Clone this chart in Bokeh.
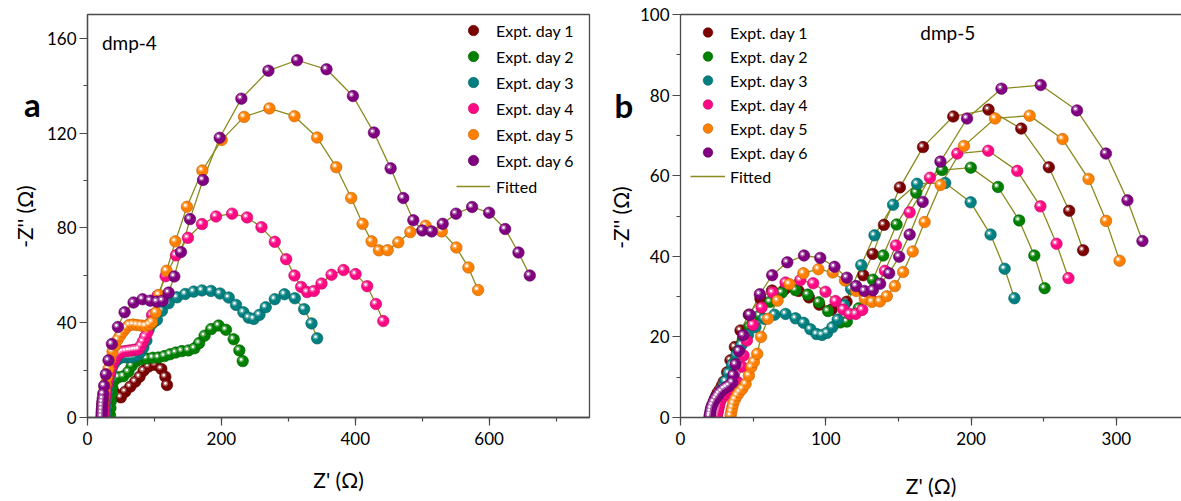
from bokeh.plotting import figure
from bokeh.models import (Range1d, SingleIntervalTicker, Legend, LegendItem, Label,
                          ColumnDataSource, LinearAxis)
from bokeh.layouts import row
from bokeh.embed import file_html
from bokeh.resources import INLINE

# ---------------- data: panel a (dmp-4) ----------------
a_day1_x = [31.4, 32.9, 35.4, 38.9, 43.9, 49.9, 56.4, 63.9, 71.3, 77.8, 83.8, 91.3, 101.3, 110.3, 116.3, 118.8]
a_day1_y = [1.0, 3.8, 8.1, 10.9, 9.5, 8.5, 10.9, 13.0, 15.1, 17.2, 19.7, 21.5, 22.2, 20.5, 17.2, 13.7]

a_day2_x = [33.6, 34.3, 35.1, 36.0, 37.1, 40.1, 46.1, 53.6, 61.1, 66.1, 72.6, 80.1, 88.5, 97.5, 106.0, 115.0,
            123.4, 131.9, 140.9, 150.9, 159.9, 166.9, 174.9, 184.9, 195.9, 206.9, 218.4, 226.9, 231.9]
a_day2_y = [1.0, 4.0, 7.0, 10.0, 12.5, 15.7, 17.0, 17.4, 19.3, 21.8, 23.8, 24.6, 24.9, 25.2, 25.3, 25.9,
            26.7, 27.4, 28.0, 28.3, 29.2, 31.4, 34.5, 37.3, 38.8, 37.0, 33.0, 28.3, 23.8]

a_day3_x = [26.0, 26.5, 27.0, 27.8, 28.8, 30.0, 31.5, 33.5, 36.0, 39.0, 43.0, 47.5, 52.0, 56.5, 61.0, 65.5,
            70.0, 74.5, 79.0, 83.5, 88.0, 91.3, 96.0, 100.7, 103.7, 111.2, 121.2, 133.7, 146.1, 158.6, 171.1,
            184.5, 198.0, 211.0, 221.9, 232.9, 240.9, 248.4, 256.9, 266.3, 279.8, 294.3, 309.7, 323.7, 334.7, 343.1]
a_day3_y = [0.5, 3.0, 5.5, 8.0, 10.5, 13.0, 15.5, 18.0, 20.5, 22.5, 24.0, 25.0, 25.4, 25.5, 25.5, 25.5,
            25.7, 26.3, 27.5, 29.5, 32.5, 37.0, 39.5, 40.7, 41.2, 45.0, 48.2, 50.7, 52.1, 53.1, 53.6,
            53.4, 52.3, 50.6, 47.5, 44.4, 42.1, 41.6, 43.3, 46.5, 49.9, 52.0, 50.3, 45.7, 39.7, 33.4]

a_day4_x = [24.0, 24.5, 25.0, 25.6, 26.4, 27.5, 28.9, 30.5, 32.2, 33.9, 36.2, 38.9, 42.0, 45.4, 48.8, 52.4,
            56.8, 61.3, 65.0, 68.8, 72.6, 76.3, 79.6, 82.8, 86.0, 89.3, 93.5, 96.5, 104.7, 116.7, 132.2, 150.1,
            171.1, 192.0, 216.0, 238.4, 259.9, 279.8, 296.8, 309.2, 319.2, 328.2, 338.2, 349.6, 364.6, 382.5,
            400.5, 417.9, 430.9, 441.9]
a_day4_y = [0.5, 2.5, 4.5, 6.5, 8.7, 11.0, 13.7, 16.0, 17.8, 19.3, 21.5, 23.5, 25.0, 26.4, 27.2, 27.8,
            28.0, 28.2, 28.3, 28.5, 28.6, 28.8, 30.2, 32.0, 34.0, 35.8, 39.7, 43.2, 51.4, 59.6, 68.4, 75.8,
            81.6, 84.8, 86.0, 84.4, 80.3, 74.1, 66.8, 59.9, 55.1, 52.9, 53.4, 56.5, 60.2, 62.2,
            60.5, 55.4, 47.9, 40.7]

a_day5_x = [21.0, 21.3, 21.7, 22.2, 22.8, 23.6, 24.6, 25.5, 27.0, 29.0, 31.4, 34.0, 37.4, 41.0, 44.9, 48.8,
            52.9, 57.5, 62.3, 68.0, 73.8, 80.0, 86.3, 92.0, 96.3, 102.2, 106.7, 118.2, 131.2, 148.6, 171.6,
            200.5, 233.9, 271.8, 309.2, 343.1, 371.6, 394.0, 411.0, 424.4, 435.4, 448.4, 464.3, 482.3, 505.2,
            529.2, 551.1, 569.1, 583.5]
a_day5_y = [0.5, 2.0, 3.5, 5.0, 6.5, 8.0, 9.7, 11.5, 14.0, 17.0, 20.5, 24.5, 27.8, 30.5, 32.8, 34.6,
            36.2, 37.8, 39.0, 39.2, 39.0, 38.8, 38.6, 39.2, 40.2, 44.3, 51.7, 61.9, 74.3, 88.9, 104.2,
            117.1, 126.8, 130.4, 127.1, 118.1, 105.6, 92.6, 81.7, 74.3, 70.5, 70.6, 73.9, 78.2, 80.9,
            78.5, 71.7, 63.3, 53.8]

a_day6_x = [21.0, 21.2, 21.5, 21.8, 22.2, 22.8, 23.5, 24.9, 27.4, 31.4, 36.4, 45.4, 55.4, 68.8, 82.3, 93.8,
            103.7, 112.2, 121.2, 129.7, 139.6, 153.1, 172.6, 197.5, 229.9, 270.3, 313.2, 357.1, 396.5, 427.9,
            452.9, 471.8, 486.8, 500.2, 514.2, 530.7, 550.6, 574.6, 600.0, 624.0, 643.9, 660.8]
a_day6_y = [0.5, 2.0, 3.5, 5.0, 6.5, 8.0, 10.0, 13.4, 18.2, 24.1, 31.0, 38.2, 44.4, 48.5, 49.9, 49.3,
            48.9, 49.3, 52.7, 59.5, 69.8, 83.7, 100.2, 118.0, 134.5, 146.3, 150.7, 146.9, 135.6, 120.2,
            105.1, 92.6, 83.2, 78.9, 78.5, 81.7, 86.0, 88.8, 86.4, 79.5, 69.6, 59.9]

# ---------------- data: panel b (dmp-5) ----------------
b_day1_x = [21.0, 21.5, 22.0, 22.5, 23.0, 23.5, 24.5, 25.5, 27.0, 28.5, 29.8, 32.1, 34.4, 37.4, 41.3, 47.0,
            55.0, 63.0, 72.0, 81.3, 88.4, 95.5, 104.0, 114.3, 125.8, 132.3, 140.0, 151.0, 166.9, 187.7,
            212.0, 234.5, 253.5, 267.5, 277.1]
b_day1_y = [0.5, 1.3, 2.1, 2.9, 3.7, 4.5, 5.3, 6.1, 6.9, 7.9, 8.9, 11.2, 14.2, 17.5, 21.6, 25.5,
            29.5, 31.5, 31.9, 31.4, 29.8, 28.0, 26.8, 28.7, 35.3, 40.6, 47.8, 57.1, 67.1, 74.7,
            76.4, 71.7, 62.1, 51.3, 41.5]

b_day2_x = [25.0, 25.5, 26.0, 26.5, 27.0, 28.0, 29.0, 30.5, 32.0, 34.0, 36.5, 39.5, 43.0, 47.5, 54.4, 61.6,
            69.8, 79.2, 87.6, 95.2, 101.5, 110.1, 114.5, 122.7, 132.4, 139.5, 148.7, 162.2, 180.0, 199.8,
            218.5, 233.1, 243.5, 250.6]
b_day2_y = [0.5, 1.5, 2.5, 3.5, 4.5, 5.5, 6.5, 7.5, 9.0, 11.0, 13.5, 16.5, 19.5, 22.5, 25.3, 28.7,
            31.0, 31.6, 30.5, 28.6, 26.4, 23.6, 23.8, 27.1, 34.2, 40.2, 47.9, 55.8, 61.4, 62.0,
            57.2, 48.9, 40.2, 32.1]

b_day3_x = [24.0, 24.5, 25.0, 25.5, 26.0, 27.0, 28.0, 29.5, 31.0, 33.0, 35.5, 38.5, 42.0, 46.5, 51.6, 57.5,
            64.7, 72.3, 79.2, 84.7, 89.4, 93.7, 97.4, 100.9, 104.5, 108.2, 112.7, 117.4, 124.4, 133.5,
            146.3, 162.8, 182.2, 199.7, 213.4, 223.1, 229.8]
b_day3_y = [0.5, 1.5, 2.5, 3.5, 4.5, 5.5, 6.5, 7.5, 9.0, 11.0, 13.0, 15.5, 18.0, 20.5, 22.4, 24.5,
            25.5, 25.7, 24.6, 23.5, 21.9, 20.7, 20.5, 21.0, 22.4, 24.3, 27.9, 31.9, 37.8, 45.2,
            52.8, 58.0, 58.2, 53.4, 45.4, 36.9, 29.6]

b_day4_x = [25.0, 25.5, 26.0, 26.5, 27.0, 28.0, 29.5, 31.0, 33.0, 35.0, 37.0, 39.0, 42.3, 43.4, 45.7, 49.8,
            55.8, 63.4, 72.3, 82.5, 91.3, 99.8, 106.7, 112.0, 116.4, 120.6, 125.1, 131.0, 140.7, 148.3,
            157.7, 171.7, 190.5, 211.8, 231.8, 247.7, 258.8, 267.0]
b_day4_y = [0.5, 1.3, 2.1, 2.9, 3.7, 4.5, 5.2, 5.9, 6.5, 7.1, 7.8, 8.9, 12.6, 15.4, 19.1, 23.0,
            27.3, 31.0, 33.5, 34.1, 33.3, 31.2, 28.9, 26.8, 25.7, 25.7, 26.7, 29.5, 36.4, 42.7,
            50.9, 59.5, 65.5, 66.2, 61.2, 52.4, 43.1, 34.6]

b_day5_x = [34.5, 35.0, 35.6, 36.3, 37.5, 39.0, 40.5, 42.5, 44.8, 47.1, 48.7, 50.5, 52.8, 55.4, 60.2, 66.8,
            74.9, 84.6, 94.9, 104.8, 113.2, 120.9, 126.8, 131.8, 137.2, 142.0, 147.5, 153.2, 159.8, 168.0,
            179.0, 195.1, 216.5, 240.3, 262.9, 280.8, 292.9, 302.2]
b_day5_y = [0.5, 1.5, 2.5, 3.5, 4.5, 5.5, 6.3, 7.1, 8.3, 10.4, 12.5, 13.8, 15.8, 20.0, 24.5, 29.0,
            33.1, 35.8, 36.8, 36.0, 34.0, 31.4, 29.5, 28.7, 28.8, 30.1, 32.6, 36.1, 41.2, 48.5,
            57.7, 67.4, 74.2, 74.9, 69.1, 59.2, 48.8, 38.9]

b_day6_x = [20.0, 20.3, 20.6, 21.0, 21.8, 22.8, 24.1, 25.3, 26.4, 28.0, 29.8, 31.5, 33.3, 35.6, 36.3, 37.9,
            40.2, 43.2, 47.7, 54.6, 63.1, 73.5, 85.0, 96.2, 106.0, 114.5, 120.9, 126.6, 132.4, 137.4,
            143.6, 150.5, 157.7, 166.7, 178.9, 197.2, 220.9, 247.9, 272.9, 292.8, 307.6, 317.9]
b_day6_y = [0.3, 0.8, 1.5, 2.3, 3.1, 3.9, 4.7, 5.3, 5.9, 6.5, 7.1, 7.5, 7.9, 8.7, 10.5, 13.2,
            16.5, 20.4, 25.5, 30.6, 35.3, 38.5, 40.2, 39.6, 37.4, 34.7, 32.6, 31.4, 31.6, 33.2,
            35.8, 39.9, 45.4, 53.5, 63.5, 74.2, 81.6, 82.5, 76.2, 65.5, 53.9, 43.8]

labels = ["Expt. day 1", "Expt. day 2", "Expt. day 3", "Expt. day 4", "Expt. day 5", "Expt. day 6"]
fit_label = "Fitted"
x_title = "Z' (\u03a9)"
y_title = "-Z'' (\u03a9)"
colors = ["#7d0000", "#008000", "#008080", "#ff0a84", "#ff8000", "#800080"]
fit_color = "#8a8a1e"

a_series = [(a_day1_x, a_day1_y), (a_day2_x, a_day2_y), (a_day3_x, a_day3_y),
            (a_day4_x, a_day4_y), (a_day5_x, a_day5_y), (a_day6_x, a_day6_y)]
b_series = [(b_day1_x, b_day1_y), (b_day2_x, b_day2_y), (b_day3_x, b_day3_y),
            (b_day4_x, b_day4_y), (b_day5_x, b_day5_y), (b_day6_x, b_day6_y)]

FONT = "Lato"
AXIS_COLOR = "#4a4a4a"
H = 501
MB_TOP = 14
MB_BOTTOM = 84


def shade(c, f):
    c = c.lstrip("#")
    r, g, b = int(c[0:2], 16), int(c[2:4], 16), int(c[4:6], 16)
    if f < 0:
        k = 1 + f
        r, g, b = int(r * k), int(g * k), int(b * k)
    else:
        r, g, b = int(r + (255 - r) * f), int(g + (255 - g) * f), int(b + (255 - b) * f)
    return "#%02x%02x%02x" % (r, g, b)


def side_strip(width, letter, letter_x, letter_y, title_x, title_y):
    """Narrow strip left of a panel holding the panel letter and the y-axis title."""
    s = figure(width=width, height=H, x_range=Range1d(0, 1), y_range=Range1d(0, 1),
               x_axis_type=None, y_axis_type=None, output_backend="svg", toolbar_location=None,
               min_border_left=0, min_border_right=0, min_border_top=MB_TOP,
               min_border_bottom=MB_BOTTOM)
    s.outline_line_color = None
    s.background_fill_color = "white"
    s.border_fill_color = "white"
    s.add_layout(Label(x=letter_x, y=letter_y, x_units="screen", y_units="screen", text=letter,
                       text_font=FONT, text_font_size="33px", text_font_style="bold",
                       text_align="left", text_baseline="alphabetic", text_color="black"))
    s.add_layout(Label(x=title_x, y=title_y, x_units="screen", y_units="screen", text=y_title,
                       angle=90, angle_units="deg", text_font=FONT, text_font_size="21px",
                       text_align="center", text_baseline="middle", text_color="black"))
    return s


def make_panel(series, xmax, ymax, xint, yint, width, mb_left, mb_right, full_frame, xlab_standoff):
    p = figure(width=width, height=H, x_range=Range1d(0, xmax), y_range=Range1d(0, ymax),
               output_backend="svg", toolbar_location=None,
               min_border_left=mb_left, min_border_right=mb_right,
               min_border_top=MB_TOP, min_border_bottom=MB_BOTTOM)
    p.xgrid.visible = False
    p.ygrid.visible = False
    p.background_fill_color = "white"
    p.border_fill_color = "white"
    xax = p.below[0]
    yax = p.left[0]
    xax.ticker = SingleIntervalTicker(interval=xint, num_minor_ticks=2)
    yax.ticker = SingleIntervalTicker(interval=yint, num_minor_ticks=2)
    for ax in (xax, yax):
        ax.axis_line_color = AXIS_COLOR
        ax.axis_line_width = 1.3
        ax.major_tick_line_color = AXIS_COLOR
        ax.minor_tick_line_color = AXIS_COLOR
        ax.major_tick_line_width = 1.2
        ax.minor_tick_line_width = 1.2
        ax.major_tick_in = 0
        ax.major_tick_out = 8
        ax.minor_tick_in = 0
        ax.minor_tick_out = 4
        ax.major_label_text_font = FONT
        ax.major_label_text_font_size = "17px"
        ax.major_label_text_color = "black"
        ax.axis_label_text_font = FONT
        ax.axis_label_text_font_size = "21px"
        ax.axis_label_text_font_style = "normal"
        ax.axis_label_text_color = "black"
    xax.axis_label = x_title
    xax.major_label_standoff = 6
    yax.major_label_standoff = 3
    yax.axis_label_standoff = 0
    xax.axis_label_standoff = xlab_standoff
    if full_frame:
        p.outline_line_color = AXIS_COLOR
        p.outline_line_width = 1.3
    else:
        p.outline_line_color = None
        top = LinearAxis(axis_line_color=AXIS_COLOR, axis_line_width=1.3,
                         major_tick_line_color=None, minor_tick_line_color=None,
                         major_label_text_font_size="0px", major_label_standoff=0,
                         major_label_text_alpha=0)
        p.add_layout(top, "above")

    # pixel size of one data unit (for the small sphere highlights)
    kx = (width - mb_left - mb_right) / xmax
    ky = (H - MB_TOP - MB_BOTTOM) / ymax

    fit_renderers = []
    for (xs, ys) in series:
        fit_renderers.append(p.line(xs, ys, line_color=fit_color, line_width=1.3))
    ball_renderers = []
    for (xs, ys), c in zip(series, colors):
        src = ColumnDataSource(dict(x=xs, y=ys))
        r = p.scatter("x", "y", source=src, size=11.5, fill_color=c,
                      line_color=shade(c, -0.25), line_width=0.6)
        ball_renderers.append(r)
        hx = [x - 1.6 / kx for x in xs]
        hy = [y + 1.6 / ky for y in ys]
        p.scatter(hx, hy, size=5.5, fill_color=shade(c, 0.45), line_color=None, fill_alpha=0.75)
        p.scatter(hx, hy, size=2.6, fill_color="white", line_color=None)
    return p, ball_renderers, fit_renderers


# ---------- panel a ----------
sa = side_strip(42, "a", 23.5, 314, 24, 201)
pa, balls_a, fits_a = make_panel(a_series, 750, 170, 200, 40, 558, 45, 11, True, 19)
items_a = [LegendItem(label=l, renderers=[r]) for l, r in zip(labels, balls_a)]
items_a.append(LegendItem(label=fit_label, renderers=[fits_a[0]]))
leg_a = Legend(items=items_a, location=(369, 218), padding=0, margin=0, spacing=0,
               glyph_width=34, glyph_height=26, label_height=26, label_standoff=6,
               label_text_font=FONT, label_text_font_size="16px", label_text_color="black",
               border_line_color=None, background_fill_alpha=0)
pa.add_layout(leg_a)
pa.add_layout(Label(x=21.5, y=158, text="dmp-4", text_font=FONT, text_font_size="19px",
                    text_baseline="middle", text_color="black"))

# ---------- panel b ----------
sb = side_strip(34, "b", 14, 313, 19.5, 200)
pb, balls_b, fits_b = make_panel(b_series, 344.8, 100, 100, 20, 547, 46, 0, False, 25)
items_b = [LegendItem(label=l, renderers=[r]) for l, r in zip(labels, balls_b)]
items_b.append(LegendItem(label=fit_label, renderers=[fits_b[0]]))
leg_b = Legend(items=items_b, location=(10, 229), padding=0, margin=0, spacing=0,
               glyph_width=35, glyph_height=24, label_height=24, label_standoff=5,
               label_text_font=FONT, label_text_font_size="16px", label_text_color="black",
               border_line_color=None, background_fill_alpha=0)
pb.add_layout(leg_b)
pb.add_layout(Label(x=184, y=95.5, text="dmp-5", text_font=FONT, text_font_size="19px",
                    text_align="center", text_baseline="middle", text_color="black"))

layout = row(sa, pa, sb, pb)
open("out.html", "w").write(file_html(layout, INLINE))
